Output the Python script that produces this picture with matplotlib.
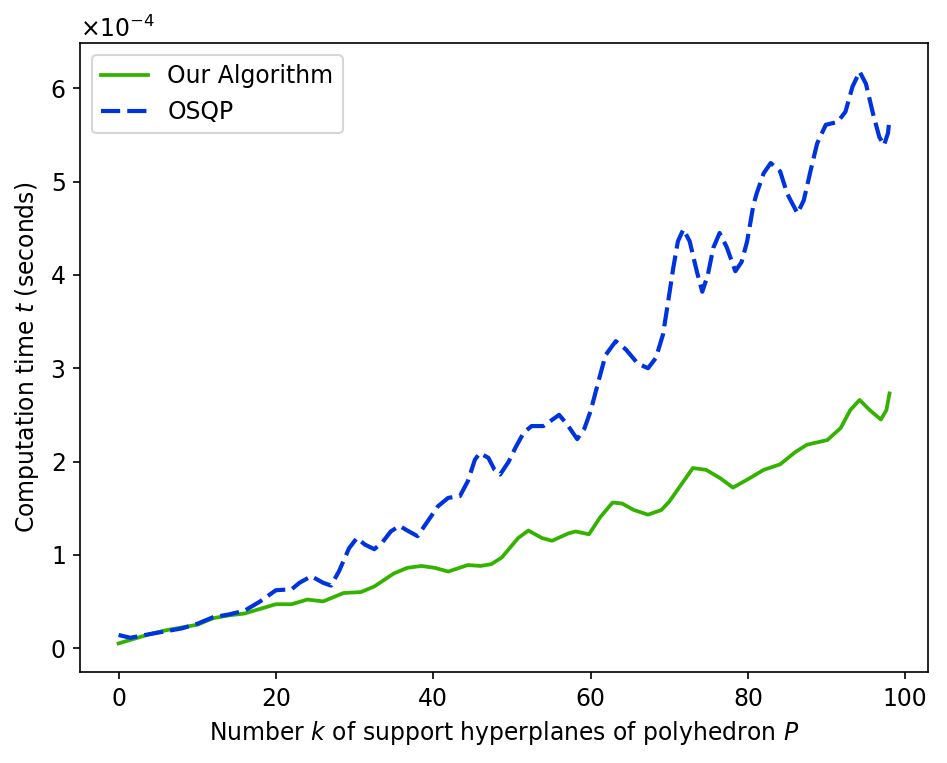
import numpy as np
import matplotlib.pyplot as plt

# Número de hiperplanos k y tiempos (en unidades de 1e-4 s)
k_osqp = [0, 1.5, 4, 6, 8, 10, 12, 14, 16, 18, 20, 22, 23, 24.5, 26, 27, 28,
          29.3, 30.3, 31.3, 32.5, 33.5, 34.6, 35.7, 36.7, 38, 39.3, 40.6, 41.9,
          43.4, 44.4, 45.3, 45.9, 47, 47.8, 48.5, 49.6, 50.4, 51.5, 52.5, 54, 55,
          56, 57, 58.3, 59.2, 60, 61.1, 61.9, 63.2, 64.5, 66, 67.3, 68.3, 69.2,
          69.8, 70.5, 71.1, 71.8, 72.6, 73.5, 74.2, 74.9, 75.6, 76.4, 77.3, 78.4,
          79.2, 79.9, 80.7, 81.1, 82, 82.9, 84.1, 85, 86.3, 87.1, 88, 88.8, 89.9,
          91.4, 92.4, 93.3, 94.2, 95, 95.9, 96.7, 97.3, 97.8, 98]
t_osqp = [0.14, 0.11, 0.15, 0.18, 0.21, 0.26, 0.33, 0.36, 0.40, 0.50, 0.62, 0.63,
          0.70, 0.77, 0.70, 0.67, 0.82, 1.07, 1.18, 1.11, 1.06, 1.13, 1.25, 1.31,
          1.26, 1.20, 1.36, 1.52, 1.61, 1.63, 1.79, 2.02, 2.09, 2.04, 1.91, 1.86,
          2.00, 2.14, 2.31, 2.38, 2.38, 2.44, 2.50, 2.40, 2.24, 2.35, 2.54, 2.89,
          3.14, 3.29, 3.20, 3.05, 3.00, 3.11, 3.36, 3.68, 4.07, 4.36, 4.49, 4.36,
          4.04, 3.82, 4.00, 4.29, 4.45, 4.30, 4.04, 4.14, 4.36, 4.75, 4.87, 5.09,
          5.20, 5.11, 4.87, 4.66, 4.80, 5.13, 5.41, 5.61, 5.64, 5.75, 6.02, 6.18,
          6.05, 5.73, 5.48, 5.39, 5.52, 5.67]

k_ours = [0, 2, 4, 6, 8, 10, 12, 14, 16, 18, 20, 22, 24, 26, 28.6, 30.8, 32.5,
          35, 36.7, 38.5, 40.2, 41.9, 44.4, 46, 47.4, 48.7, 50.8, 52.1, 53.8,
          55.1, 57.2, 58.1, 59.8, 61.2, 62.8, 64, 65.5, 67.3, 69, 70, 71.5, 73,
          74.7, 76.5, 78.1, 80, 82, 84.1, 86, 87.5, 90.1, 91.8, 93, 94.2, 95.5,
          96.9, 97.6, 98]
t_ours = [0.05, 0.10, 0.15, 0.19, 0.22, 0.25, 0.32, 0.35, 0.37, 0.42, 0.47, 0.47,
          0.52, 0.50, 0.59, 0.60, 0.66, 0.80, 0.86, 0.88, 0.86, 0.82, 0.89, 0.88,
          0.90, 0.97, 1.18, 1.26, 1.18, 1.15, 1.23, 1.25, 1.22, 1.40, 1.56, 1.55,
          1.48, 1.43, 1.48, 1.57, 1.75, 1.93, 1.91, 1.82, 1.72, 1.81, 1.91, 1.97,
          2.10, 2.18, 2.23, 2.36, 2.55, 2.66, 2.55, 2.45, 2.55, 2.73]

escala = 1e-4

plt.rcParams['font.size'] = 11.3

fig = plt.figure(figsize=(947 / 150, 763 / 150), dpi=150)
ax = fig.add_axes([0.0845, 0.1193, 0.8955, 0.8243])

ax.plot(k_ours, np.array(t_ours) * escala, color='#33b300', linewidth=1.8,
        label='Our Algorithm')
ax.plot(k_osqp, np.array(t_osqp) * escala, color='#0033e0', linewidth=2.0,
        linestyle='--', dashes=(4.6, 1.7), label='OSQP')

ax.set_xlabel('Number $k$ of support hyperplanes of polyhedron $P$')
ax.set_ylabel('Computation time $t$ (seconds)')
ax.ticklabel_format(axis='y', style='sci', scilimits=(0, 0), useMathText=True)
ax.legend(loc='upper left')

fig.savefig('out.png', dpi=150)
